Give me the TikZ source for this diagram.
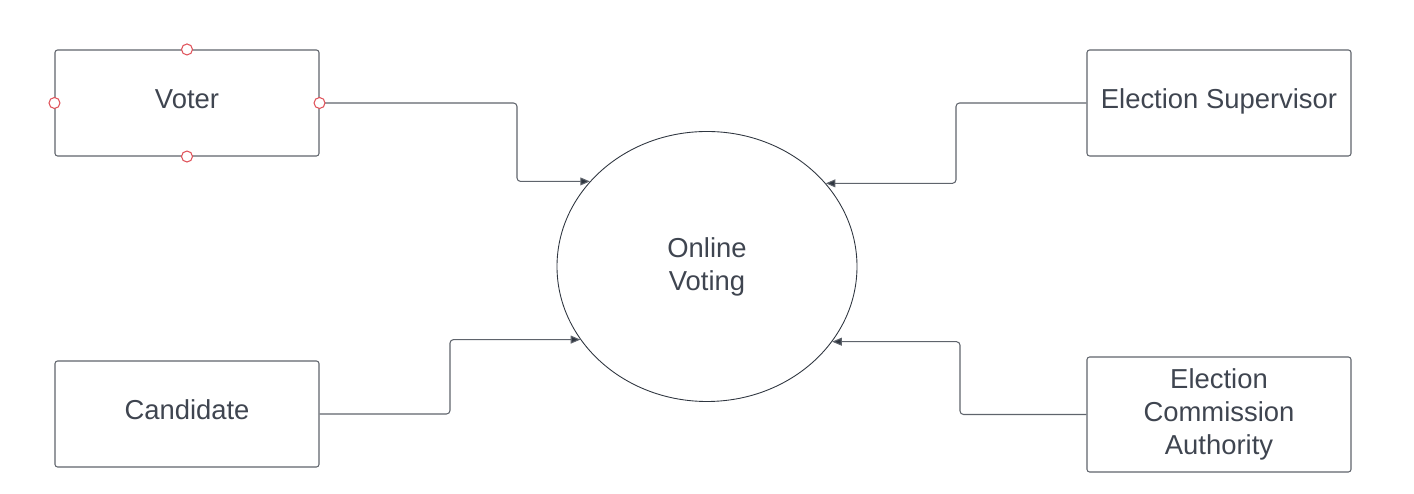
\documentclass[tikz,border=0pt]{standalone}
\usepackage{fontspec}
\setmainfont{Liberation Sans}
\usepackage{tikz}
\usetikzlibrary{arrows.meta}
\usetikzlibrary{shapes.geometric}
\definecolor{txtgray}{HTML}{3F4550}
\definecolor{linegray}{HTML}{5F646C}
\definecolor{tipgray}{HTML}{2F3640}
\definecolor{handlered}{HTML}{E0525A}
\begin{document}
\begin{tikzpicture}[
    entity/.style={rectangle,draw=linegray,line width=0.6pt,rounded corners=1.5pt,minimum width=5.28cm,minimum height=2.12cm,align=center,text=txtgray,font=\fontsize{15.6}{18.7}\selectfont},
    oneline/.style={text height=11.5pt,text depth=4.7pt},
    process/.style={ellipse,draw=tipgray,line width=0.5pt,minimum width=6cm,minimum height=5.4cm,inner sep=0pt,align=center,text=txtgray,font=\fontsize{15.6}{18.7}\selectfont},
    flow/.style={draw=linegray,line width=0.6pt,rounded corners=2pt,-{Triangle[length=5.5pt,width=4.5pt,fill=tipgray]}},
    handle/.style={circle,draw=handlered,fill=white,line width=0.6pt,minimum size=0.22cm,inner sep=0pt}]

    \useasboundingbox (0,0) rectangle (28.28,9.88);

    \node[process]         (ov) at (14.14, 4.55)     {Online\\Voting};
    \node[entity,oneline]  (voter) at (3.74, 7.82)   {Voter};
    \node[entity,oneline]  (cand) at (3.74, 1.6)     {Candidate};
    \node[entity,oneline]  (sup) at (24.38, 7.82)    {Election Supervisor};
    \node[entity,minimum height=2.3cm] (eca) at (24.38, 1.59) {Election\\Commission\\Authority};

    \coordinate (vb) at (10.34, 0);
    \coordinate (cb) at (9.0, 0);
    \coordinate (sb) at (19.12, 0);
    \coordinate (eb) at (19.2, 0);

    \draw[flow] (voter.east) -- (voter.east -| vb) |- (ov.144.4);
    \draw[flow] (cand.east) -- (cand.east -| cb) |- (ov.210.05);
    \draw[flow] (sup.west) -- (sup.west -| sb) |- (ov.35.05);
    \draw[flow] (eca.west) -- (eca.west -| eb) |- (ov.-31.5);

    \node[handle]          (vn) at (voter.north)     {};
    \node[handle]          (vs) at (voter.south)     {};
    \node[handle]          (ve) at (voter.east)      {};
    \node[handle]          (vw) at (voter.west)      {};
  \end{tikzpicture}
\end{document}
